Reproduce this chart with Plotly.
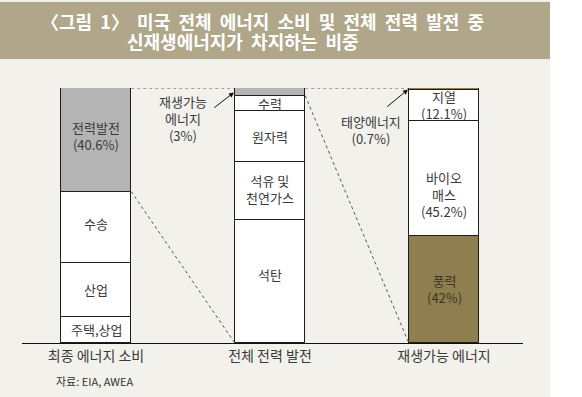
import plotly.graph_objects as go

# ---------------- data ----------------
categories = ["최종 에너지 소비", "전체 전력 발전", "재생가능 에너지"]

# stacks listed bottom -> top
final_names = ["주택,상업", "산업", "수송", "전력발전"]
final_values = [10.2, 21.2, 28.0, 40.6]

power_names = ["석탄", "석유 및<br>천연가스", "원자력", "수력", "재생가능<br>에너지"]
power_values = [48.4, 22.4, 20.2, 6.0, 3.0]

renew_names = ["풍력", "바이오<br>매스", "지열", "태양에너지"]
renew_values = [42.0, 45.2, 12.1, 0.7]

title_line1 = "〈그림 1〉 미국 전체 에너지 소비 및 전체 전력 발전 중"
title_line2 = "신재생에너지가 차지하는 비중"
source_text = "자료: EIA, AWEA"

# ---------------- style ----------------
FONT = "Noto Sans CJK KR"
PAGE_BG = "#f3f1ec"
BAND = "#b0a78a"
GRAY = "#b4b4b4"
BROWN = "#8f7f50"
WHITE = "#ffffff"
TXT = "#3a3a3a"
BAR_W = 0.405

stacks = [
    dict(cat=categories[0], names=final_names, values=final_values,
         colors=[WHITE, WHITE, WHITE, GRAY],
         show_pct=[False, False, False, True],
         inside=[True, True, True, True],
         yshift=[0, 0, 4, 4],
         tcolor=[TXT, TXT, TXT, TXT]),
    dict(cat=categories[1], names=power_names, values=power_values,
         colors=[WHITE, WHITE, WHITE, WHITE, GRAY],
         show_pct=[False, False, False, False, True],
         inside=[True, True, True, True, False],
         yshift=[7, 2, 0, 0, 0],
         tcolor=[TXT, TXT, TXT, TXT, TXT]),
    dict(cat=categories[2], names=renew_names, values=renew_values,
         colors=[BROWN, WHITE, WHITE, BROWN],
         show_pct=[True, True, True, True],
         inside=[True, True, True, False],
         yshift=[0, -16, 0, 0],
         tcolor=["#3b3422", TXT, TXT, TXT]),
]


def pct(v):
    s = f"{v:.1f}"
    if s.endswith(".0"):
        s = s[:-2]
    return f"({s}%)"


def widen(s):
    return s.replace(" ", " \u00a0")


fig = go.Figure()
annotations = []

for si, st in enumerate(stacks):
    cum = 0.0
    for name, v, c, sp, ins, ys, tc in zip(st["names"], st["values"], st["colors"],
                                           st["show_pct"], st["inside"],
                                           st["yshift"], st["tcolor"]):
        fig.add_trace(go.Bar(
            x=[st["cat"]], y=[v], width=[BAR_W],
            marker=dict(color=c, line=dict(color="#1e1e1e", width=1)),
            showlegend=False, hoverinfo="skip"))
        label = name + ("<br>" + pct(v) if sp else "")
        if ins:
            annotations.append(dict(
                x=st["cat"], y=cum + v / 2, xref="x", yref="y", text=label,
                showarrow=False, yshift=ys,
                font=dict(family=FONT, size=13, color=tc)))
        cum += v

total_final = sum(final_values)
total_power = sum(power_values)
total_renew = sum(renew_values)

# 재생가능 에너지 (3%) -> middle bar top-left
annotations.append(dict(
    x=1 - BAR_W / 2, y=total_power - power_values[-1] / 2, xref="x", yref="y",
    text="", showarrow=True, ax=-22, ay=17, arrowhead=2, arrowsize=1,
    arrowwidth=1, arrowcolor="#111", standoff=1))
annotations.append(dict(
    x=1 - BAR_W / 2, y=total_power, xref="x", yref="y",
    text="재생가능<br>에너지<br>" + pct(power_values[-1]),
    showarrow=False, xshift=-52, yshift=-30,
    font=dict(family=FONT, size=13, color=TXT)))

# 태양에너지 (0.7%) -> right bar top-left
annotations.append(dict(
    x=2 - BAR_W / 2, y=total_renew - renew_values[-1] / 2, xref="x", yref="y",
    text="", showarrow=True, ax=-23, ay=19, arrowhead=2, arrowsize=1,
    arrowwidth=1, arrowcolor="#111", standoff=1))
annotations.append(dict(
    x=2 - BAR_W / 2, y=total_renew, xref="x", yref="y",
    text="태양에너지<br>" + pct(renew_values[-1]),
    showarrow=False, xshift=-38, yshift=-42,
    font=dict(family=FONT, size=13, color=TXT)))

# dashed connectors, derived from the stacks
dash = dict(color="#555555", width=1, dash="3px,3px")
gen_bottom = total_final - final_values[-1]
ren_bottom = total_power - power_values[-1]
conn = [
    ([0 + BAR_W / 2, 1 - BAR_W / 2], [total_final, total_power]),
    ([0 + BAR_W / 2, 1 - BAR_W / 2], [gen_bottom, 0]),
    ([1 + BAR_W / 2, 2 - BAR_W / 2], [total_power, total_renew]),
    ([1 + BAR_W / 2, 2 - BAR_W / 2], [ren_bottom, 0]),
]
for xs, ys in conn:
    fig.add_trace(go.Scatter(x=xs, y=ys, mode="lines", line=dash,
                             showlegend=False, hoverinfo="skip", cliponaxis=False,
                             xaxis="x2"))

# titles and source
L, R, T, B = 22, 59, 88, 54
W, H = 582, 397
PW, PH = W - L - R, H - T - B


def px(xp):
    return (xp - L) / PW


def py(yp):
    return 1 - (yp - T) / PH


annotations.append(dict(x=px(262), y=py(21), xref="paper", yref="paper",
                        text=f"<b>{widen(title_line1)}</b>", showarrow=False,
                        xanchor="center", yanchor="middle",
                        font=dict(family=FONT, size=18, color="white")))
annotations.append(dict(x=px(243), y=py(41), xref="paper", yref="paper",
                        text=f"<b>{widen(title_line2)}</b>", showarrow=False,
                        xanchor="center", yanchor="middle",
                        font=dict(family=FONT, size=18, color="white")))
annotations.append(dict(x=px(54), y=py(381), xref="paper", yref="paper",
                        text=source_text, showarrow=False,
                        xanchor="left", yanchor="middle",
                        font=dict(family=FONT, size=11, color="#333")))

shapes = [
    dict(type="rect", xref="paper", yref="paper", x0=px(0), x1=px(550),
         y0=py(59), y1=py(2), fillcolor=BAND, line=dict(width=0), layer="below"),
    dict(type="rect", xref="paper", yref="paper", x0=px(550), x1=px(600),
         y0=py(420), y1=py(-20), fillcolor="white", line=dict(width=0), layer="below"),
]

xr = [-74 / 174, 2 + (PW - 422) / 174]
fig.update_layout(
    width=W, height=H,
    margin=dict(l=L, r=R, t=T, b=B, pad=0),
    paper_bgcolor=PAGE_BG, plot_bgcolor="rgba(0,0,0,0)",
    barmode="stack", bargap=0,
    showlegend=False,
    annotations=annotations, shapes=shapes,
    xaxis=dict(type="category", categoryorder="array", categoryarray=categories,
               range=xr, showline=True, linecolor="#111", linewidth=1,
               showgrid=False, zeroline=False, ticks="",
               tickfont=dict(family=FONT, size=14, color=TXT), fixedrange=True),
    xaxis2=dict(range=xr, overlaying="x", visible=False, fixedrange=True),
    yaxis=dict(range=[0, 100], visible=False, fixedrange=True),
    font=dict(family=FONT),
)

fig.write_html("out.html",
               config={"displayModeBar": False},
               post_script="document.body.style.margin='0';document.body.style.padding='0';")
